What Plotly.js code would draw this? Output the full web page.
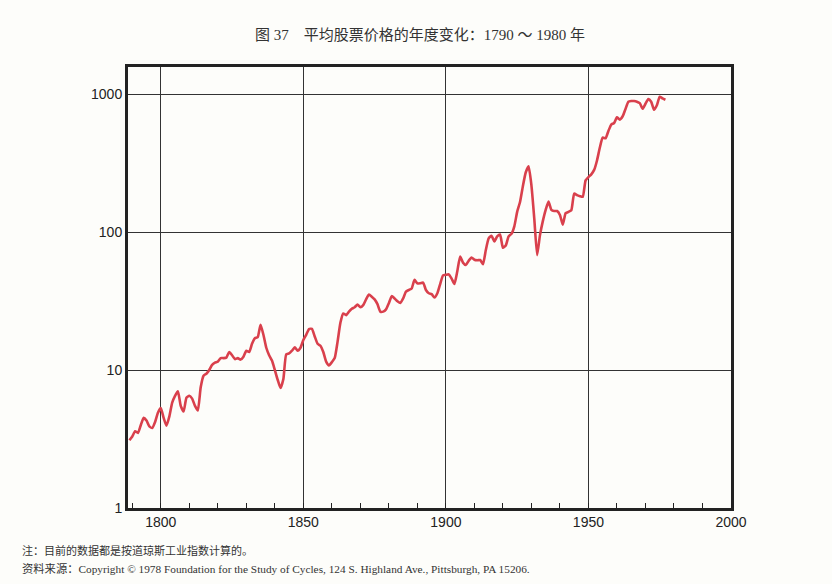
<!DOCTYPE html>
<html>
<head>
<meta charset="utf-8">
<script src="https://cdn.plot.ly/plotly-3.0.1.min.js"></script>
<style>
  html, body { margin: 0; padding: 0; background: #fdfdfa; }
  #chart { width: 832px; height: 584px; }
</style>
</head>
<body>
<div id="chart"></div>
<script>
// annual average stock price (log scale)
const years = [];
for (let y = 1789; y <= 1977; y++) years.push(y);

const prices = [
  3.1, 3.3, 3.6, 3.5, 4.0, 4.5, 4.3, 3.9, 3.8, 4.2,          // 1789-1798
  4.9, 5.3, 4.5, 3.95, 4.6, 5.8, 6.5, 7.0, 5.5, 5.0,         // 1799-1808
  6.3, 6.5, 6.2, 5.5, 5.1, 7.5, 9.1, 9.4, 10.0, 10.9,        // 1809-1818
  11.3, 11.5, 12.2, 12.2, 12.3, 13.5, 12.8, 12.0, 12.2, 11.9, // 1819-1828
  12.5, 13.8, 13.5, 15.5, 17.0, 17.3, 21.3, 18.0, 14.5, 12.8, // 1829-1838
  11.7, 10.0, 8.5, 7.4, 8.6, 13.0, 13.2, 13.8, 14.6, 13.8,   // 1839-1848
  14.5, 16.5, 18.0, 19.8, 19.9, 17.5, 15.5, 15.0, 13.5, 11.5, // 1849-1858
  10.8, 11.4, 12.2, 16.0, 22.0, 25.7, 25.0, 26.5, 27.8, 28.5, // 1859-1868
  29.8, 28.5, 29.5, 32.5, 35.2, 34.0, 32.5, 30.0, 26.5, 26.5, // 1869-1878
  27.5, 30.5, 34.3, 33.0, 31.5, 30.6, 33.0, 37.0, 38.0, 39.0, // 1879-1888
  45.0, 42.5, 42.5, 43.0, 38.0, 36.0, 35.5, 33.5, 36.0, 42.0, // 1889-1898
  48.5, 49.0, 49.3, 46.0, 42.0, 52.0, 66.5, 60.0, 57.7, 62.0, // 1899-1908
  65.3, 63.0, 62.5, 62.7, 58.4, 74.0, 90.0, 94.0, 85.6, 93.0, // 1909-1918
  96.0, 77.0, 80.0, 93.0, 97.0, 110, 140, 165, 215, 270,     // 1919-1928
  299, 218, 125, 68, 95, 120, 145, 166, 145, 142,            // 1929-1938
  142, 133, 113, 137, 140, 144, 190, 185, 182, 180,          // 1939-1948
  237, 250, 262, 282, 330, 410, 483, 478, 540, 601,          // 1949-1958
  617, 678, 653, 690, 780, 881, 890, 890, 880, 859,          // 1959-1968
  782, 850, 921, 880, 769, 830, 957, 930, 910                // 1969-1977
];

const yTicks = [1, 10, 100, 1000];
const yTickText = ["1", "10", "100", "1000"];
const xTicks = [1800, 1850, 1900, 1950, 2000];

const titleText = "图 37　平均股票价格的年度变化：1790 ～ 1980 年";
const noteText = "注：目前的数据都是按道琼斯工业指数计算的。";
const sourceText = "资料来源：Copyright © 1978 Foundation for the Study of Cycles, 124 S. Highland Ave., Pittsburgh, PA 15206.";

const serif = "'Liberation Serif', 'Noto Sans CJK SC', serif";
const sans = "'Liberation Sans', Arial, sans-serif";

Plotly.newPlot("chart", [
  {
    x: years,
    y: prices,
    type: "scatter",
    mode: "lines",
    line: { color: "#d9404c", width: 2.6, shape: "spline", smoothing: 0.5 },
    hoverinfo: "x+y"
  }
], {
  width: 832,
  height: 584,
  paper_bgcolor: "#fdfdfa",
  plot_bgcolor: "#fdfdfa",
  showlegend: false,
  margin: { l: 128, r: 101, t: 67, b: 76 },
  xaxis: {
    range: [1788.5, 2000],
    tickvals: xTicks,
    ticktext: ["1800", "1850", "1900", "1950", "2000"],
    ticks: "",
    showgrid: true,
    gridcolor: "#333",
    gridwidth: 1.4,
    showline: true,
    linecolor: "#222",
    linewidth: 3,
    mirror: true,
    zeroline: false,
    ticklabelstandoff: -1,
    tickfont: { family: sans, size: 14, color: "#222" },
    minor: { dtick: 10, tick0: 1790, ticks: "inside", ticklen: 5, tickwidth: 1.4, tickcolor: "#222", showgrid: false }
  },
  yaxis: {
    type: "log",
    range: [0, 3.196],
    tickvals: yTicks,
    ticktext: yTickText,
    ticks: "",
    showgrid: true,
    gridcolor: "#333",
    gridwidth: 1.4,
    showline: true,
    linecolor: "#222",
    linewidth: 3,
    mirror: true,
    zeroline: false,
    tickfont: { family: sans, size: 14, color: "#222" }
  },
  annotations: [
    {
      text: titleText, xref: "paper", yref: "paper", x: 0.485, y: 1, yshift: 32,
      xanchor: "center", yanchor: "middle", showarrow: false,
      font: { family: serif, size: 15, color: "#333" }
    },
    {
      text: noteText, xref: "paper", yref: "paper", x: -0.179, y: 0, yshift: -42,
      xanchor: "left", yanchor: "middle", showarrow: false,
      font: { family: serif, size: 11, color: "#333" }
    },
    {
      text: sourceText, xref: "paper", yref: "paper", x: -0.179, y: 0, yshift: -60,
      xanchor: "left", yanchor: "middle", showarrow: false,
      font: { family: serif, size: 11.3, color: "#333" }
    }
  ]
}, { displayModeBar: false });
</script>
</body>
</html>
